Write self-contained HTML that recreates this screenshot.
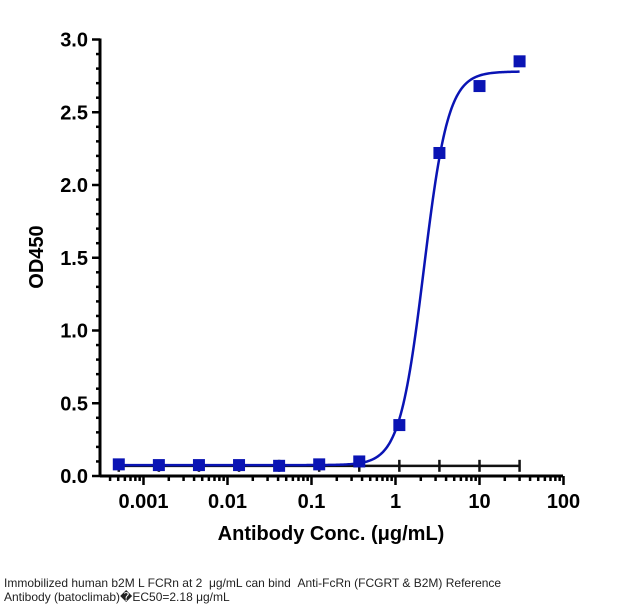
<!DOCTYPE html>
<html><head><meta charset="utf-8"><style>
body{margin:0;background:#fff;width:637px;height:616px;overflow:hidden;font-family:"Liberation Sans",sans-serif}
svg{position:absolute;left:0;top:0}
.cap{position:absolute;left:4px;top:576px;font-size:12px;color:#222;line-height:14px;width:580px}
</style></head><body>
<svg id="chart" width="637" height="616"></svg>
<div class="cap">Immobilized human b2M L FCRn at 2 &nbsp;μg/mL can bind &nbsp;Anti-FcRn (FCGRT &amp; B2M) Reference<br>Antibody (batoclimab)&#xFFFD;EC50=2.18 μg/mL</div>
<script>
const concs=[30,10,3.333,1.111,0.3704,0.1235,0.04115,0.01372,0.004572,0.001524,0.000508];
const od=[2.85,2.68,2.22,0.35,0.10,0.08,0.07,0.075,0.075,0.075,0.08];
const baseline=[0.07,0.07,0.07,0.07,0.07,0.07,0.07,0.07,0.07,0.07,0.07];
const yTicks=[0,0.5,1.0,1.5,2.0,2.5,3.0];
const xTicks=[0.001,0.01,0.1,1,10,100];
const fitBottom=0.075,fitTop=2.78,fitEC50=2.18,fitHill=3;
const NS='http://www.w3.org/2000/svg';
const svg=document.getElementById('chart');
const X=v=>395.5+84*Math.log10(v);
const Y=v=>476-145.5*v;
function add(tag,attrs,parent){const e=document.createElementNS(NS,tag);for(const k in attrs)e.setAttribute(k,attrs[k]);(parent||svg).appendChild(e);return e;}
let a=add('line',{x1:100,y1:Y(3)-1,x2:100,y2:476,stroke:'#000','stroke-width':3});


a=add('line',{x1:100,y1:476,x2:563,y2:476,stroke:'#000','stroke-width':3});


for(let i=0;i<=30;i++){const v=i/10;const maj=i%5==0;
 add('line',{x1:maj?92:96,x2:100,y1:Y(v),y2:Y(v),stroke:'#000','stroke-width':2.5});}
yTicks.forEach(v=>{const t=add('text',{x:88,y:Y(v)+7,'text-anchor':'end','font-size':20,'font-weight':'bold'});t.textContent=v.toFixed(1);
 
 });
for(let d=-4;d<=1;d++){for(let m=1;m<=9;m++){const v=m*Math.pow(10,d);const x=X(v);if(x<100||x>563)continue;
 add('line',{x1:x,x2:x,y1:476,y2:m==1?485:481,stroke:'#000','stroke-width':2.5});}}
add('line',{x1:X(100),x2:X(100),y1:476,y2:485,stroke:'#000','stroke-width':2.5});
xTicks.forEach(v=>{const t=add('text',{x:X(v),y:508,'text-anchor':'middle','font-size':20,'font-weight':'bold'});t.textContent=String(v);
 
 });
let t=add('text',{x:331,y:540,'text-anchor':'middle','font-size':20,'font-weight':'bold'});t.textContent='Antibody Conc. (μg/mL)';


t=add('text',{x:0,y:0,'text-anchor':'middle','font-size':20,'font-weight':'bold',transform:'translate(43,257) rotate(-90)'});t.textContent='OD450';


let bp='';concs.slice().reverse().forEach((c,i)=>{const b=baseline[concs.length-1-i];bp+=(i?'L':'M')+X(c)+' '+Y(b);});
let bl=add('path',{d:bp,stroke:'#111',fill:'none','stroke-width':2.5});


concs.forEach((c,i)=>{add('line',{x1:X(c),x2:X(c),y1:Y(baseline[i])-6,y2:Y(baseline[i])+6,stroke:'#111','stroke-width':2.5});});
let fp='';for(let i=0;i<=300;i++){const lx=Math.log10(concs[concs.length-1])+i*(Math.log10(concs[0])-Math.log10(concs[concs.length-1]))/300;
 const y=fitBottom+(fitTop-fitBottom)/(1+Math.pow(10,(Math.log10(fitEC50)-lx)*fitHill));fp+=(i?'L':'M')+(395.5+84*lx)+' '+Y(y);}
let fc=add('path',{d:fp,stroke:'#0a14b4',fill:'none','stroke-width':2.5});


concs.forEach((c,i)=>{const r=add('rect',{x:X(c)-6,y:Y(od[i])-6,width:12,height:12,fill:'#0a14b4'});
 
 });
</script>
</body></html>
